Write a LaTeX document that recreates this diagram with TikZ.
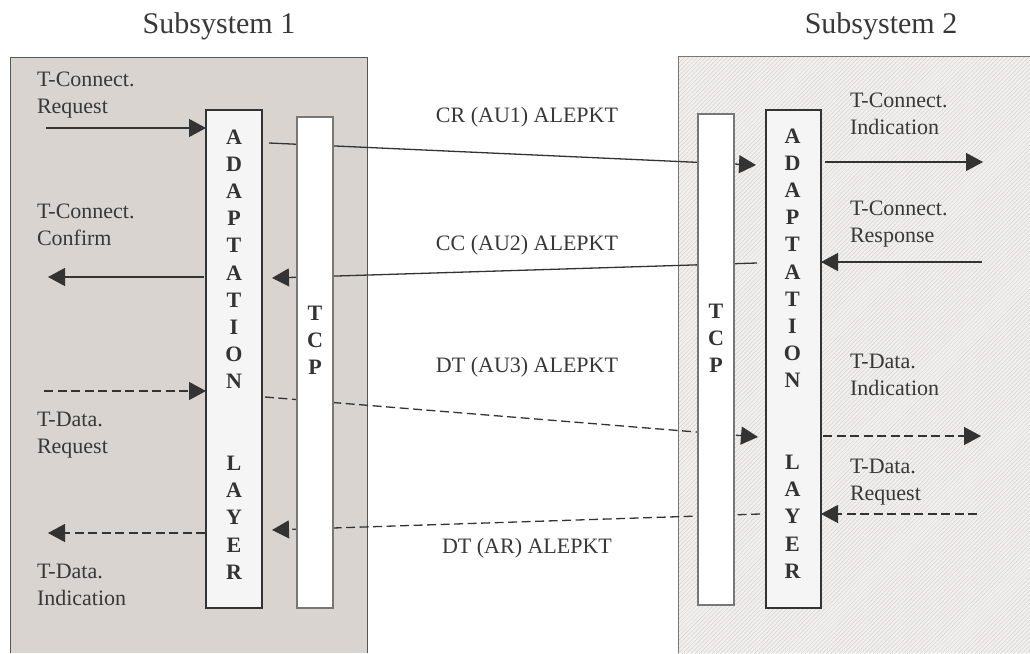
\documentclass[tikz,border=0pt]{standalone}
\usepackage{fontspec}
\setmainfont{Liberation Serif}
\newfontfamily\stackfont{Liberation Serif Bold}
\usetikzlibrary{arrows.meta,patterns.meta,calc}
\pgfdeclarelayer{back}\pgfdeclarelayer{mid}
\pgfsetlayers{back,mid,main}
\definecolor{ink}{HTML}{333333}
\definecolor{txt}{HTML}{383838}
\definecolor{subA}{HTML}{DAD4D1}
\definecolor{subB}{HTML}{F1F0EF}
\definecolor{hatchc}{HTML}{D6D3D0}
\definecolor{layerfill}{HTML}{F5F5F5}
\definecolor{boxline}{HTML}{555555}
\definecolor{tcpline}{HTML}{777777}
\begin{document}
\begin{tikzpicture}[x=1pt,y=-1pt,
 every node/.style={inner sep=0pt, outer sep=0pt},
 lbl/.style={text=txt, font=\fontsize{22}{27}\selectfont, align=left, anchor=base west},
 msg/.style={text=txt, font=\fontsize{22}{27}\selectfont, anchor=base},
 title/.style={text=txt, font=\fontsize{30}{36}\selectfont, anchor=base},
 layerbox/.style={draw=ink, line width=1.2pt, fill=layerfill, minimum width=56pt, minimum height=498pt},
 tcpbox/.style={draw=tcpline, line width=1.2pt, fill=white, minimum width=36pt, minimum height=491pt},
 stack/.style={text=ink, font=\stackfont\fontsize{22}{27.2}\selectfont, align=center},
 conn/.style={draw=ink, line width=1.3pt, -{Triangle[length=17pt,width=18pt]}},
 dconn/.style={conn, dash pattern=on 9pt off 4.5pt},
]
\useasboundingbox (0,0) rectangle (1030,653);

% subsystem areas
\begin{pgfonlayer}{back}
\fill[subA] (10,57) rectangle (367,653);
\draw[boxline, line width=1pt] (10,653) -- (10,57) -- (367,57) -- (367,653);
\fill[subB] (678,56) rectangle (1030,653);
\fill[pattern={Lines[angle=45,distance=3pt,line width=0.5pt]}, pattern color=hatchc] (678,56) rectangle (1030,653);
\draw[tcpline, line width=1pt] (678,653) -- (678,56) -- (1030,56);
\end{pgfonlayer}

\node[title] (s1) at (219,33) {Subsystem 1};
\node[title] (s2) at (881,33) {Subsystem 2};

% layers
\node[layerbox] (al) at (234,359) {};
\node[tcpbox] (tl) at (315,362.5) {};
\node[tcpbox] (tr) at (716,359.5) {};
\node[layerbox, minimum width=55pt] (ar) at (793.5,359) {};

\node[stack] (alt) at (234,354.5) {A\\D\\A\\P\\T\\A\\T\\I\\O\\N\\[54.4pt]L\\A\\Y\\E\\R};
\node[stack] (art) at (792.5,353.5) {A\\D\\A\\P\\T\\A\\T\\I\\O\\N\\[54.4pt]L\\A\\Y\\E\\R};
\node[stack] (tlt) at (315,340) {T\\C\\P};
\node[stack] (trt) at (716,338) {T\\C\\P};

% labels (anchor = baseline of the last line)
\node[lbl] (l1) at (37,113) {T-Connect.\\Request};
\node[lbl] (l2) at (37,245) {T-Connect.\\Confirm};
\node[lbl] (l3) at (37,453) {T-Data.\\Request};
\node[lbl] (l4) at (37,605) {T-Data.\\Indication};
\node[lbl] (r1) at (850,134) {T-Connect.\\Indication};
\node[lbl] (r2) at (850,242) {T-Connect.\\Response};
\node[lbl] (r3) at (850,395) {T-Data.\\Indication};
\node[lbl] (r4) at (850,500) {T-Data.\\Request};

\node[msg] (m1) at (527,122) {CR (AU1) ALEPKT};
\node[msg] (m2) at (527,250) {CC (AU2) ALEPKT};
\node[msg] (m3) at (527,372) {DT (AU3) ALEPKT};
\node[msg] (m4) at (527,553) {DT (AR) ALEPKT};

% connector end points
\coordinate (a1) at (46,128);  \coordinate (a1e) at (al.west |- a1);
\coordinate (a2) at (269,143); \coordinate (a2e) at (756,165);
\coordinate (a3) at (757,263); \coordinate (a3e) at (272,278);
\coordinate (a4) at (204,277); \coordinate (a4e) at (48,277);
\coordinate (a5) at (825,162); \coordinate (a5e) at (983,162);
\coordinate (a6) at (982,262); \coordinate (a6e) at (ar.east |- a6);
\coordinate (d1) at (44,391);  \coordinate (d1e) at (al.west |- d1);
\coordinate (d2) at (265,397); \coordinate (d2e) at (758,437);
\coordinate (d3) at (823,436); \coordinate (d3e) at (981,436);
\coordinate (d4) at (760,514); \coordinate (d4e) at (272,530);
\coordinate (d5) at (205,533); \coordinate (d5e) at (48,533);
\coordinate (d6) at (977,514); \coordinate (d6e) at (ar.east |- d6);

\begin{pgfonlayer}{mid}
\draw[conn] (a1) -- (a1e);
\draw[conn] (a2) -- (a2e);
\draw[conn] (a3) -- (a3e);
\draw[conn] (a4) -- (a4e);
\draw[conn] (a5) -- (a5e);
\draw[conn] (a6) -- (a6e);
\draw[dconn] (d1) -- (d1e);
\draw[dconn] (d2) -- (d2e);
\draw[dconn] (d3) -- (d3e);
\draw[dconn] (d4) -- (d4e);
\draw[dconn] (d5) -- (d5e);
\draw[dconn] (d6) -- (d6e);
\end{pgfonlayer}
\end{tikzpicture}
\end{document}
